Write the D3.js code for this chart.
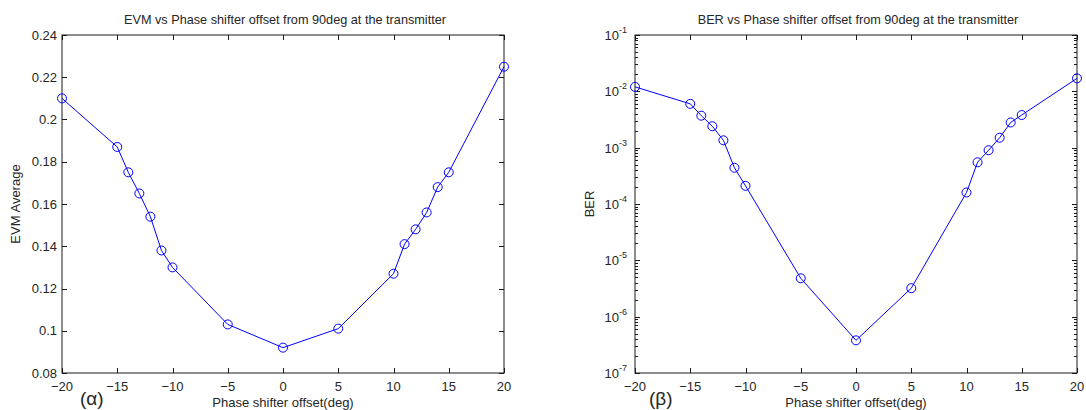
<!DOCTYPE html>
<html>
<head>
<meta charset="utf-8">
<script src="https://cdn.jsdelivr.net/npm/d3@7"></script>
<style>
  html, body { margin: 0; padding: 0; background: #ffffff; }
  svg { display: block; }
  text { font-family: "Liberation Sans", Arial, sans-serif; fill: #262626; }
</style>
</head>
<body>
<svg id="chart" width="1086" height="410"></svg>
<script>
// ---- data ----
const offsets = [-20, -15, -14, -13, -12, -11, -10, -5, 0, 5, 10, 11, 12, 13, 14, 15, 20];
const evmValues = [0.210, 0.187, 0.175, 0.165, 0.154, 0.138, 0.130, 0.103, 0.092, 0.101, 0.127, 0.141, 0.148, 0.156, 0.168, 0.175, 0.225];
const berValues = [1.2e-2, 6.0e-3, 3.7e-3, 2.4e-3, 1.35e-3, 4.4e-4, 2.1e-4, 4.8e-6, 3.8e-7, 3.2e-6, 1.6e-4, 5.5e-4, 9.0e-4, 1.5e-3, 2.8e-3, 3.8e-3, 1.7e-2];
const xTicks = [-20, -15, -10, -5, 0, 5, 10, 15, 20];
const evmTicks = [0.08, 0.10, 0.12, 0.14, 0.16, 0.18, 0.20, 0.22, 0.24];
const berExponents = [-7, -6, -5, -4, -3, -2, -1];
const titles = ["EVM vs Phase shifter offset from 90deg at the transmitter",
                "BER vs Phase shifter offset from 90deg at the transmitter"];
const yLabels = ["EVM Average", "BER"];
const xLabel = "Phase shifter offset(deg)";
const panelTags = ["(α)", "(β)"];

const svg = d3.select("#chart");
const blue = "#0000ff";
const axisColor = "#1a1a1a";

function drawPanel(cfg) {
  const { left, right, top, bottom } = cfg;
  const g = svg.append("g");
  const x = d3.scaleLinear().domain([-20, 20]).range([left, right]);
  const y = cfg.log
    ? d3.scaleLog().domain([1e-7, 1e-1]).range([bottom, top])
    : d3.scaleLinear().domain([0.08, 0.24]).range([bottom, top]);

  // box
  g.append("rect").attr("x", left).attr("y", top)
    .attr("width", right - left).attr("height", bottom - top)
    .attr("fill", "none").attr("stroke", axisColor).attr("stroke-width", 1);

  // x ticks (bottom + top, inward)
  const tl = 5;
  xTicks.forEach(t => {
    const px = Math.round(x(t)) + 0.5;
    g.append("line").attr("x1", px).attr("x2", px).attr("y1", bottom).attr("y2", bottom - tl)
      .attr("stroke", axisColor);
    g.append("line").attr("x1", px).attr("x2", px).attr("y1", top).attr("y2", top + tl)
      .attr("stroke", axisColor);
    g.append("text").attr("x", x(t)).attr("y", bottom + 18)
      .attr("text-anchor", "middle").attr("font-size", 13).text(d3.format("d")(t));
  });

  if (!cfg.log) {
    evmTicks.forEach(t => {
      const py = Math.round(y(t)) + 0.5;
      g.append("line").attr("x1", left).attr("x2", left + tl).attr("y1", py).attr("y2", py)
        .attr("stroke", axisColor);
      g.append("line").attr("x1", right).attr("x2", right - tl).attr("y1", py).attr("y2", py)
        .attr("stroke", axisColor);
      g.append("text").attr("x", left - 5).attr("y", y(t) + 4.5)
        .attr("text-anchor", "end").attr("font-size", 13)
        .text(d3.format("")(+t.toFixed(2)));
    });
  } else {
    berExponents.forEach(e => {
      const v = Math.pow(10, e);
      const py = Math.round(y(v)) + 0.5;
      g.append("line").attr("x1", left).attr("x2", left + tl).attr("y1", py).attr("y2", py)
        .attr("stroke", axisColor);
      g.append("line").attr("x1", right).attr("x2", right - tl).attr("y1", py).attr("y2", py)
        .attr("stroke", axisColor);
      const txt = g.append("text").attr("x", left - 8).attr("y", y(v) + 5)
        .attr("text-anchor", "end").attr("font-size", 13);
      txt.append("tspan").text("10");
      txt.append("tspan").attr("dy", -7).attr("font-size", 9).text(String(e));
      if (e < -1) {
        for (let m = 2; m <= 9; m++) {
          const mv = m * v;
          const my = Math.round(y(mv)) + 0.5;
          g.append("line").attr("x1", left).attr("x2", left + 3).attr("y1", my).attr("y2", my)
            .attr("stroke", axisColor);
          g.append("line").attr("x1", right).attr("x2", right - 3).attr("y1", my).attr("y2", my)
            .attr("stroke", axisColor);
        }
      }
    });
  }

  // line + markers
  const vals = cfg.values;
  const line = d3.line().x((d, i) => x(offsets[i])).y(d => y(d));
  g.append("path").datum(vals).attr("d", line)
    .attr("fill", "none").attr("stroke", blue).attr("stroke-width", 1);
  g.selectAll("circle.m").data(vals).enter().append("circle")
    .attr("cx", (d, i) => x(offsets[i])).attr("cy", d => y(d)).attr("r", 4.5)
    .attr("fill", "none").attr("stroke", blue).attr("stroke-width", 1);

  // titles & labels
  g.append("text").attr("x", (left + right) / 2 + 2).attr("y", 24)
    .attr("text-anchor", "middle").attr("font-size", 12.7).text(cfg.title);
  g.append("text").attr("x", (left + right) / 2).attr("y", 407)
    .attr("text-anchor", "middle").attr("font-size", 13).text(xLabel);
  g.append("text")
    .attr("transform", `translate(${cfg.ylabX},${(top + bottom) / 2}) rotate(-90)`)
    .attr("text-anchor", "middle").attr("font-size", 13).text(cfg.ylabel);
  g.append("text").attr("x", cfg.tagX).attr("y", 405)
    .attr("font-size", 19).text(cfg.tag);
}

drawPanel({ left: 62, right: 504, top: 35, bottom: 373, log: false, values: evmValues,
  title: titles[0], ylabel: yLabels[0], ylabX: 20, tag: panelTags[0], tagX: 80 });
drawPanel({ left: 635, right: 1077, top: 35, bottom: 373, log: true, values: berValues,
  title: titles[1], ylabel: yLabels[1], ylabX: 594, tag: panelTags[1], tagX: 649 });
</script>
</body>
</html>
